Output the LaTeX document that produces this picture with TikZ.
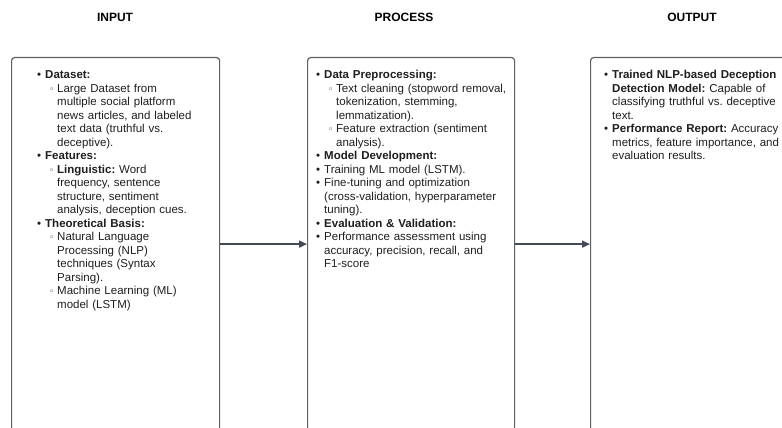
\documentclass[tikz,border=0pt]{standalone}
\usepackage{fontspec}
\setmainfont{Liberation Sans}
\newfontfamily\symfont{DejaVu Sans}
\usetikzlibrary{positioning}
\usetikzlibrary{arrows.meta}
\definecolor{framegray}{HTML}{5E5E66}
\definecolor{flowgray}{HTML}{454B55}
\definecolor{textdark}{HTML}{1E1E1E}
\tikzset{stage/.style={rectangle, rounded corners=3pt, draw=framegray,
   line width=1.2pt, minimum height=373pt, anchor=north west}}
\tikzset{head/.style={font=\bfseries\fontsize{12}{14}\selectfont,
   text=black}}
\tikzset{body/.style={inner sep=0pt, text=textdark, text width=215pt,
   align=left, font=\fontsize{11.5}{13.5}\selectfont\frenchspacing}}
\tikzset{flow/.style={draw=flowgray, line width=1.6pt,
   -{Triangle[length=8pt,width=7pt]}}}
\newcommand{\nl}{\newline}
\newcommand{\bitem}[1]{\par\noindent\makebox[8pt][l]{\textbullet}%
   \parbox[t]{200pt}{\raggedright #1\strut}\par\prevdepth=\dp\strutbox}
\newcommand{\sitem}[1]{\par\noindent\hspace*{12pt}%
   \makebox[8pt][l]{\symfont\fontsize{9}{9}\selectfont ◦}%
   \parbox[t]{190pt}{\raggedright #1\strut}\par\prevdepth=\dp\strutbox}

\begin{document}
\begin{tikzpicture}[x=1pt, y=1pt]

    \useasboundingbox (0,0) rectangle (782,-428);
    \clip (0,0) rectangle (782,-428);

    % columns
    \node[stage, minimum width=208pt] (input)   at (11,-57)  {};
    \node[stage, minimum width=207pt] (process) at (307,-57) {};
    \node[stage, minimum width=220pt] (output)  at (590,-57) {};

    \node[head] (inhead)   at (115,-17) {INPUT};
    \node[head] (prochead) at (404,-17) {PROCESS};
    \node[head] (outhead)  at (692,-17) {OUTPUT};

    \node[body, below right=8pt and 26pt of input.north west] (intext) {
      \bitem{\textbf{Dataset:}}
      \sitem{Large Dataset from\nl multiple social platform\nl news articles, and labeled\nl text data (truthful vs.\nl deceptive).}
      \bitem{\textbf{Features:}}
      \sitem{\textbf{Linguistic:} Word\nl frequency, sentence\nl structure, sentiment\nl analysis, deception cues.}
      \bitem{\textbf{Theoretical Basis:}}
      \sitem{Natural Language\nl Processing (NLP)\nl techniques (Syntax\nl Parsing).}
      \sitem{Machine Learning (ML)\nl model (LSTM)}
    };

    \node[body, below right=8pt and 9pt of process.north west] (proctext) {
      \bitem{\textbf{Data Preprocessing:}}
      \sitem{Text cleaning (stopword removal,\nl tokenization, stemming,\nl lemmatization).}
      \sitem{Feature extraction (sentiment\nl analysis).}
      \bitem{\textbf{Model Development:}}
      \bitem{Training ML model (LSTM).}
      \bitem{Fine-tuning and optimization\nl (cross-validation, hyperparameter\nl tuning).}
      \bitem{\textbf{Evaluation \& Validation:}}
      \bitem{Performance assessment using\nl accuracy, precision, recall, and\nl F1-score}
    };

    \node[body, below right=8pt and 14pt of output.north west] (outtext) {
      \bitem{\textbf{Trained NLP-based Deception\nl Detection Model:} Capable of\nl classifying truthful vs. deceptive\nl text.}
      \bitem{\textbf{Performance Report:} Accuracy\nl metrics, feature importance, and\nl evaluation results.}
    };

    % arrows
    \draw[flow] (input) -- (process);
    \draw[flow] (process) -- (output);

  \end{tikzpicture}
\end{document}
